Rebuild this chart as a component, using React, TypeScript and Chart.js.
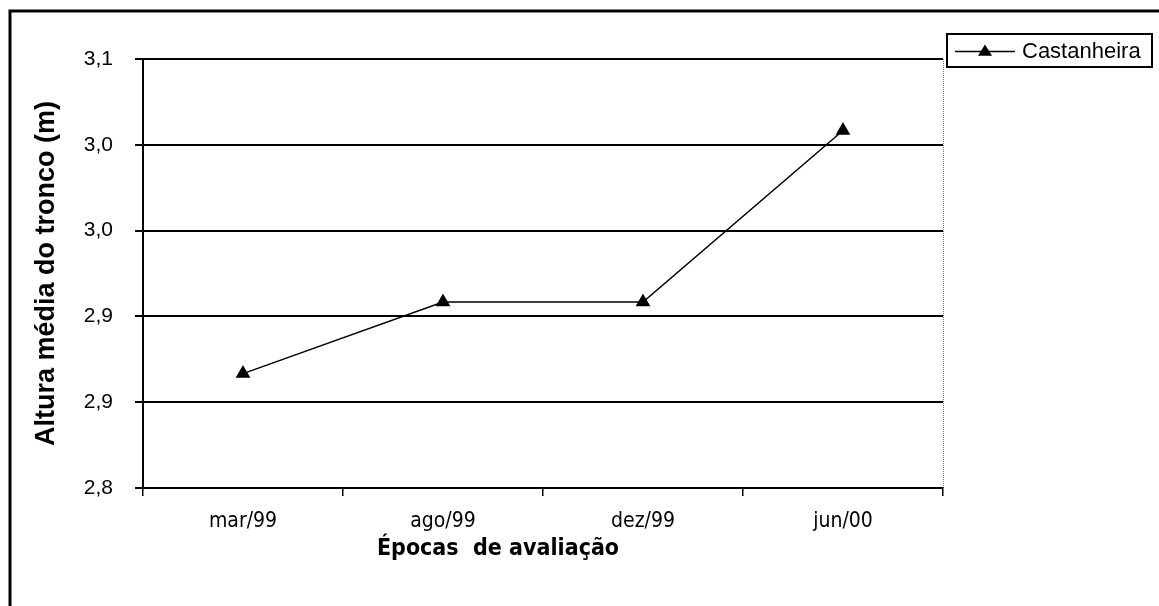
import React, { useEffect, useRef } from "react";
import { Chart, registerables } from "chart.js";

Chart.register(...registerables);

// Evaluation dates and mean trunk height of the Castanheira plants
const epocas = ["mar/99", "ago/99", "dez/99", "jun/00"];
const alturaCastanheira = [2.88, 2.93, 2.93, 3.05];
const serieNome = "Castanheira";

// Y axis ticks and the labels printed beside them
const yTickValues = [2.8, 2.86, 2.92, 2.98, 3.04, 3.1];
const yTickLabels = ["2,8", "2,9", "2,9", "3,0", "3,0", "3,1"];

const xTitulo = "Épocas  de avaliação";
const yTitulo = "Altura média do tronco (m)";

const SANS = "'Liberation Sans', Arial, sans-serif";
const NARROW = "'Liberation Sans Narrow', 'DejaVu Sans Condensed', 'Liberation Sans', Arial, sans-serif";

// Outer frame, dotted right border of the plot area, x title and the boxed legend
const decorPlugin = {
  id: "decor",
  beforeDraw(chart: any) {
    const ctx = chart.ctx;
    const { right, top, bottom } = chart.chartArea;
    ctx.save();
    ctx.fillStyle = "#fff";
    ctx.fillRect(0, 0, chart.width, chart.height);
    // frame (top and left edges visible)
    ctx.strokeStyle = "#000";
    ctx.lineWidth = 3;
    ctx.beginPath();
    ctx.moveTo(10, chart.height);
    ctx.lineTo(10, 11);
    ctx.lineTo(chart.width, 11);
    ctx.stroke();
    // plot area right border
    ctx.strokeStyle = "#777";
    ctx.lineWidth = 1;
    ctx.setLineDash([1, 1]);
    ctx.beginPath();
    ctx.moveTo(right + 0.5, top);
    ctx.lineTo(right + 0.5, bottom);
    ctx.stroke();
    ctx.restore();
  },
  afterDraw(chart: any) {
    const ctx = chart.ctx;
    const ds = chart.data.datasets[0];
    ctx.save();

    // x axis title, placed a little left of the plot centre
    const { left, right, bottom } = chart.chartArea;
    ctx.fillStyle = "#000";
    ctx.font = `bold 23px ${NARROW}`;
    ctx.textAlign = "center";
    ctx.textBaseline = "middle";
    ctx.fillText(xTitulo, (left + right) / 2 - 45, bottom + 61);

    // legend box
    const bx = right + 4;
    const by = 34;
    const bw = 205;
    const bh = 33;
    const cy = by + bh / 2 + 1;
    ctx.fillStyle = "#fff";
    ctx.fillRect(bx, by, bw, bh);
    ctx.strokeStyle = "#000";
    ctx.lineWidth = 2;
    ctx.strokeRect(bx, by, bw, bh);
    // sample line with triangle marker
    ctx.lineWidth = 1.5;
    ctx.beginPath();
    ctx.moveTo(bx + 8, cy);
    ctx.lineTo(bx + 68, cy);
    ctx.stroke();
    const mx = bx + 38;
    const r = 7;
    ctx.fillStyle = "#000";
    ctx.beginPath();
    ctx.moveTo(mx, cy - r);
    ctx.lineTo(mx + r, cy + r * 0.6);
    ctx.lineTo(mx - r, cy + r * 0.6);
    ctx.closePath();
    ctx.fill();
    ctx.font = `22px ${SANS}`;
    ctx.textBaseline = "middle";
    ctx.textAlign = "left";
    ctx.fillText(ds.label, bx + 75, cy);
    ctx.restore();
  },
};

export default function App() {
  const canvasRef = useRef<HTMLCanvasElement | null>(null);

  useEffect(() => {
    if (!canvasRef.current) return;
    const chart = new Chart(canvasRef.current, {
      type: "line",
      data: {
        labels: epocas,
        datasets: [
          {
            label: serieNome,
            data: alturaCastanheira,
            borderColor: "#000",
            borderWidth: 1.5,
            backgroundColor: "#000",
            pointStyle: "triangle",
            pointRadius: 7,
            pointBackgroundColor: "#000",
            pointBorderColor: "#000",
            tension: 0,
          },
        ],
      },
      options: {
        responsive: false,
        animation: false,
        layout: { padding: { top: 59, right: 216, left: 0, bottom: 0 } },
        plugins: {
          legend: { display: false },
          tooltip: { enabled: false },
        },
        scales: {
          x: {
            offset: true,
            grid: {
              offset: true,
              drawOnChartArea: false,
              drawTicks: true,
              tickLength: 8,
              color: "#000",
              lineWidth: 1.5,
            },
            border: { display: true, color: "#000", width: 2 },
            ticks: {
              color: "#000",
              padding: 13,
              font: { family: NARROW, size: 21 },
            },
            afterFit(scale: any) {
              scale.height = 118;
            },
          },
          y: {
            min: 2.8,
            max: 3.1,
            afterBuildTicks(scale: any) {
              scale.ticks = yTickValues.map((v) => ({ value: v }));
            },
            grid: {
              color: "#000",
              lineWidth: 2,
              tickLength: 8,
            },
            border: { display: true, color: "#000", width: 2 },
            ticks: {
              color: "#000",
              padding: 22,
              font: { family: SANS, size: 21 },
              callback: (_v: any, i: number) => yTickLabels[i],
            },
            title: {
              display: true,
              text: yTitulo,
              color: "#000",
              font: { family: SANS, size: 27, weight: "bold" },
              padding: { top: 30, bottom: 0 },
            },
            afterFit(scale: any) {
              scale.width = 143;
            },
          },
        },
      },
      plugins: [decorPlugin],
    });
    return () => chart.destroy();
  }, []);

  return (
    <div style={{ position: "fixed", left: 0, top: 0, width: 1159, height: 606, background: "#fff" }}>
      <canvas ref={canvasRef} width={1159} height={606} />
    </div>
  );
}
